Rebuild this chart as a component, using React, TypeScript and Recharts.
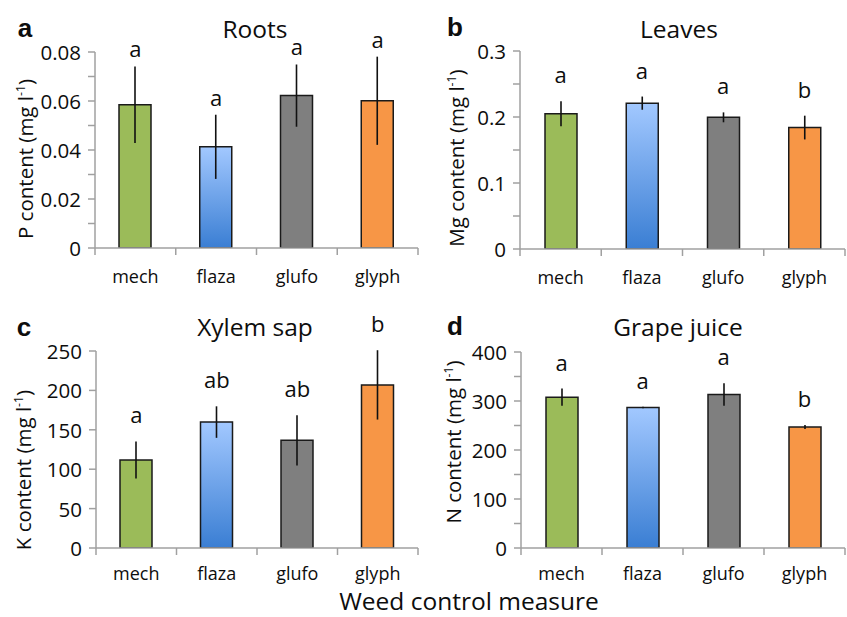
import React from 'react';
import { ComposedChart, Bar, Line, XAxis, YAxis, ErrorBar, Cell, LabelList } from 'recharts';

// ---------- data ----------
const categories = ['mech', 'flaza', 'glufo', 'glyph'];

const rootsP = [0.0585, 0.0413, 0.0622, 0.0601];
const rootsPErr = [0.0156, 0.0131, 0.0127, 0.018];
const rootsLetters = ['a', 'a', 'a', 'a'];
const rootsTicks = [0, 0.01, 0.02, 0.03, 0.04, 0.05, 0.06, 0.07, 0.08];
const rootsTickLabels = ['0', '', '0.02', '', '0.04', '', '0.06', '', '0.08'];

const leavesMg = [0.205, 0.221, 0.1995, 0.184];
const leavesMgErr = [0.019, 0.01, 0.0075, 0.018];
const leavesLetters = ['a', 'a', 'a', 'b'];
const leavesTicks = [0, 0.05, 0.1, 0.15, 0.2, 0.25, 0.3];
const leavesTickLabels = ['0', '', '0.1', '', '0.2', '', '0.3'];

const xylemK = [111.7, 159.8, 136.6, 207];
const xylemKErr = [23.6, 20, 32, 44];
const xylemLetters = ['a', 'ab', 'ab', 'b'];
const xylemTicks = [0, 50, 100, 150, 200, 250];
const xylemTickLabels = ['0', '50', '100', '150', '200', '250'];

const juiceN = [307.8, 286.9, 313.3, 246.8];
const juiceNErr = [17.6, 1.5, 23, 4];
const juiceLetters = ['a', 'a', 'a', 'b'];
const juiceTicks = [0, 50, 100, 150, 200, 250, 300, 350, 400];
const juiceTickLabels = ['0', '', '100', '', '200', '', '300', '', '400'];

const barColors = ['#9BBB59', 'GRADIENT', '#7F7F7F', '#F79646'];

// ---------- styling ----------
const FONT = '"Open Sans", "DejaVu Sans", sans-serif';
const AXIS = '#A0A0A0';
const TEXT = '#0d0d0d';

function buildData(values: number[], errs: number[], letters: string[]) {
  return categories.map((c, i) => ({
    cat: c,
    v: values[i],
    err: errs[i],
    top: values[i] + errs[i],
    letter: letters[i],
  }));
}

type PanelProps = {
  id: string;
  left: number;
  top: number;
  width: number;
  height: number;
  margin: { top: number; right: number; bottom: number; left: number };
  yAxisWidth: number;
  xAxisHeight: number;
  catLabelOffset: number;
  ticks: number[];
  tickLabels: string[];
  values: number[];
  errs: number[];
  letters: string[];
  letterOffset: number;
};

function Panel(p: PanelProps) {
  const data = buildData(p.values, p.errs, p.letters);
  const plotW = p.width - p.margin.left - p.margin.right - p.yAxisWidth;
  const band = plotW / categories.length;
  const gradId = 'grad-' + p.id;

  const renderYTick = (props: any) => {
    const { x, y, payload } = props;
    const idx = p.ticks.indexOf(payload.value);
    const label = idx >= 0 ? p.tickLabels[idx] : '';
    if (!label) return <g />;
    return (
      <text x={x} y={y} textAnchor="end" dominantBaseline="central" fontSize={20.5} fill={TEXT} fontFamily={FONT}>
        {label}
      </text>
    );
  };

  const renderXTick = (props: any) => {
    const { x, y, payload, index } = props;
    return (
      <g>
        <line x1={x - band / 2} x2={x - band / 2} y1={y} y2={y + 7} stroke={AXIS} strokeWidth={1.5} />
        {index === categories.length - 1 && (
          <line x1={x + band / 2} x2={x + band / 2} y1={y} y2={y + 7} stroke={AXIS} strokeWidth={1.5} />
        )}
        <text x={x} y={y + p.catLabelOffset} textAnchor="middle" dominantBaseline="central" fontSize={18} fill={TEXT} fontFamily={FONT}>
          {payload.value}
        </text>
      </g>
    );
  };

  const renderLetter = (props: any) => {
    const { x, y, value } = props;
    return (
      <text x={x} y={y - p.letterOffset} textAnchor="middle" fontSize={22} fill={TEXT} fontFamily={FONT}>
        {value}
      </text>
    );
  };

  return (
    <div style={{ position: 'absolute', left: p.left, top: p.top }}>
      <ComposedChart width={p.width} height={p.height} data={data} margin={p.margin}>
        <defs>
          <linearGradient id={gradId} x1="0" y1="0" x2="0" y2="1">
            <stop offset="0%" stopColor="#A2C8FF" />
            <stop offset="100%" stopColor="#3A7ED3" />
          </linearGradient>
        </defs>
        <XAxis
          dataKey="cat"
          type="category"
          height={p.xAxisHeight}
          interval={0}
          tickSize={0}
          tickMargin={0}
          tickLine={false}
          axisLine={{ stroke: AXIS, strokeWidth: 1.5 }}
          tick={renderXTick}
        />
        <YAxis
          type="number"
          width={p.yAxisWidth}
          domain={[p.ticks[0], p.ticks[p.ticks.length - 1]]}
          ticks={p.ticks}
          interval={0}
          allowDataOverflow
          tickSize={7}
          tickMargin={7}
          axisLine={{ stroke: AXIS, strokeWidth: 1.5 }}
          tickLine={{ stroke: AXIS, strokeWidth: 1.5 }}
          tick={renderYTick}
        />
        <Bar dataKey="v" barSize={32} stroke="#1A1A1A" strokeWidth={1.5} isAnimationActive={false}>
          {data.map((d, i) => (
            <Cell key={d.cat} fill={barColors[i] === 'GRADIENT' ? `url(#${gradId})` : barColors[i]} />
          ))}
          <ErrorBar dataKey="err" width={0} stroke="#111" strokeWidth={1.6} direction="y" />
        </Bar>
        <Line
          dataKey="top"
          stroke="none"
          dot={false}
          activeDot={false}
          legendType="none"
          isAnimationActive={false}
        >
          <LabelList dataKey="letter" content={renderLetter} />
        </Line>
      </ComposedChart>
    </div>
  );
}

const absCenter = (x: number, y: number, extra: React.CSSProperties = {}): React.CSSProperties => ({
  position: 'absolute',
  left: x,
  top: y,
  transform: 'translate(-50%, -50%)',
  whiteSpace: 'nowrap',
  lineHeight: 1,
  color: TEXT,
  fontFamily: FONT,
  ...extra,
});

const rotCenter = (x: number, y: number): React.CSSProperties => ({
  position: 'absolute',
  left: x,
  top: y,
  transform: 'translate(-50%, -50%) rotate(-90deg)',
  whiteSpace: 'nowrap',
  lineHeight: 1,
  color: TEXT,
  fontFamily: FONT,
  fontSize: 20.5,
});

const Sup = () => (
  <span style={{ fontSize: '0.6em', position: 'relative', top: '-0.65em' }}>-1</span>
);

const panelLetterStyle = (x: number, y: number) =>
  absCenter(x, y, { fontFamily: '"Liberation Sans", Arial, sans-serif', fontWeight: 'bold', fontSize: 26 });

export default function App() {
  return (
    <div style={{ position: 'absolute', left: 0, top: 0, width: 847, height: 617, background: '#fff', overflow: 'hidden' }}>
      <Panel
        id="a" left={0} top={0} width={420} height={290}
        margin={{ top: 52, right: 2, bottom: 12, left: 45 }}
        yAxisWidth={50} xAxisHeight={30} catLabelOffset={28}
        ticks={rootsTicks} tickLabels={rootsTickLabels}
        values={rootsP} errs={rootsPErr} letters={rootsLetters} letterOffset={9}
      />
      <Panel
        id="b" left={420} top={0} width={427} height={290}
        margin={{ top: 51, right: 2, bottom: 11, left: 50 }}
        yAxisWidth={50} xAxisHeight={30} catLabelOffset={28}
        ticks={leavesTicks} tickLabels={leavesTickLabels}
        values={leavesMg} errs={leavesMgErr} letters={leavesLetters} letterOffset={18}
      />
      <Panel
        id="c" left={0} top={290} width={420} height={327}
        margin={{ top: 61, right: 2, bottom: 39, left: 46 }}
        yAxisWidth={50} xAxisHeight={30} catLabelOffset={25}
        ticks={xylemTicks} tickLabels={xylemTickLabels}
        values={xylemK} errs={xylemKErr} letters={xylemLetters} letterOffset={18}
      />
      <Panel
        id="d" left={420} top={290} width={427} height={327}
        margin={{ top: 62, right: 2, bottom: 39, left: 51 }}
        yAxisWidth={50} xAxisHeight={30} catLabelOffset={25}
        ticks={juiceTicks} tickLabels={juiceTickLabels}
        values={juiceN} errs={juiceNErr} letters={juiceLetters} letterOffset={18}
      />

      {/* panel letters */}
      <div style={panelLetterStyle(25, 28)}>a</div>
      <div style={panelLetterStyle(455, 27)}>b</div>
      <div style={panelLetterStyle(24, 327)}>c</div>
      <div style={panelLetterStyle(455, 326)}>d</div>

      {/* titles */}
      <div style={absCenter(255, 29, { fontSize: 24.5 })}>Roots</div>
      <div style={absCenter(679, 29, { fontSize: 24.5 })}>Leaves</div>
      <div style={absCenter(255, 327, { fontSize: 24.5 })}>Xylem sap</div>
      <div style={absCenter(678, 327, { fontSize: 24.5 })}>Grape juice</div>

      {/* y-axis labels */}
      <div style={rotCenter(25, 159)}>P content (mg l<Sup />)</div>
      <div style={rotCenter(456, 158)}>Mg content (mg l<Sup />)</div>
      <div style={rotCenter(23, 470)}>K content (mg l<Sup />)</div>
      <div style={rotCenter(453, 442)}>N content (mg l<Sup />)</div>

      {/* shared x-axis title */}
      <div style={absCenter(469, 601, { fontSize: 24.5 })}>Weed control measure</div>
    </div>
  );
}
